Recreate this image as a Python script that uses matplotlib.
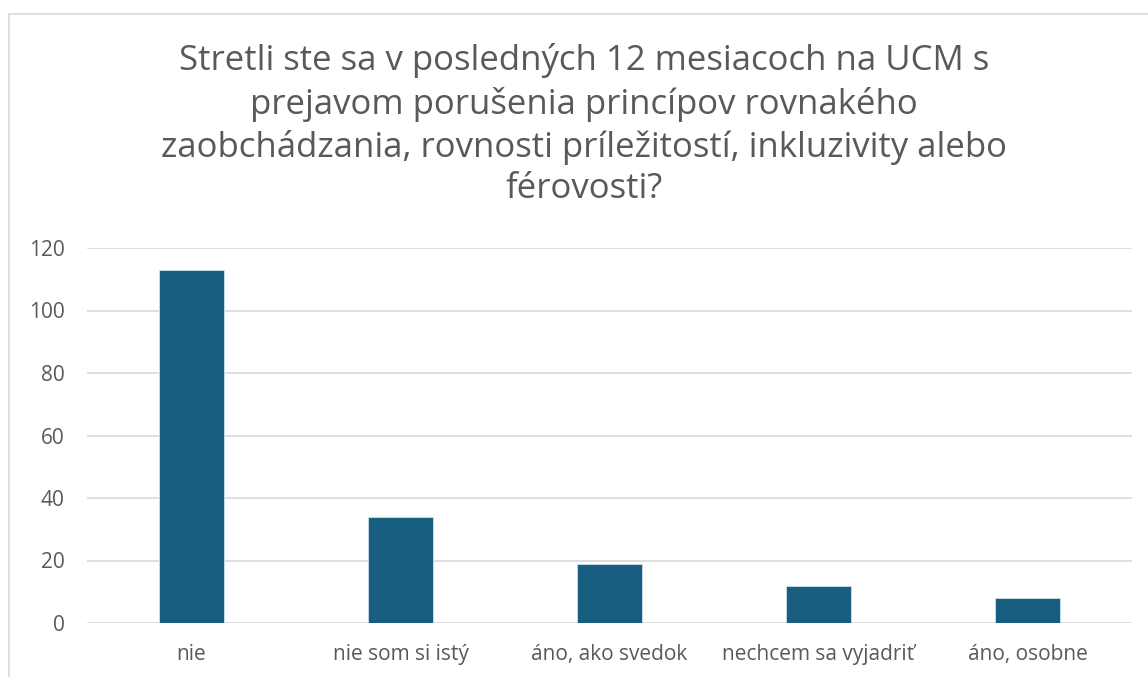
import matplotlib.pyplot as plt
from matplotlib.patches import Rectangle

categories = ['nie', 'nie som si istý', 'áno, ako svedok', 'nechcem sa vyjadriť', 'áno, osobne']
counts = [113, 34, 19, 12, 8]
yticks = [0, 20, 40, 60, 80, 100, 120]
title = ('Stretli ste sa v posledných 12 mesiacoch na UCM s\n'
         'prejavom porušenia princípov rovnakého\n'
         'zaobchádzania, rovnosti príležitostí, inkluzivity alebo\n'
         'férovosti?')

plt.rcParams['font.family'] = ['Open Sans', 'DejaVu Sans']
txt = '#595959'

fig = plt.figure(figsize=(11.48, 6.77), dpi=100)
# chart frame (runs off the right/bottom edge like the screenshot)
fig.patches.append(Rectangle((9 / 1148, -0.05), 1.2, 1 - 14 / 677 + 0.05,
                             transform=fig.transFigure, fill=False,
                             edgecolor='#d9d9d9', linewidth=1.2))

ax = fig.add_axes([87 / 1148, 1 - 623 / 677, (1132 - 87) / 1148, (623 - 248) / 677])
x = range(len(categories))
ax.bar(x, counts, width=0.315, color='#185E80', edgecolor='#cfe0ea', linewidth=0.6, zorder=3)
ax.set_xlim(-0.5, len(categories) - 0.5)
ax.set_ylim(0, 120)
ax.set_yticks(yticks)
ax.set_xticks(list(x))
ax.set_xticklabels(categories)
ax.grid(axis='y', color='#d9d9d9', linewidth=1.2, zorder=0)
for s in ax.spines.values():
    s.set_visible(False)
ax.tick_params(length=0, labelsize=15, colors=txt)
ax.tick_params(axis='x', pad=15)
ax.tick_params(axis='y', pad=16)

fig.text(584 / 1148, 1 - 125 / 677, title, ha='center', va='center',
         fontsize=25, color=txt, linespacing=1.3)

fig.savefig('out.png', dpi=100)
